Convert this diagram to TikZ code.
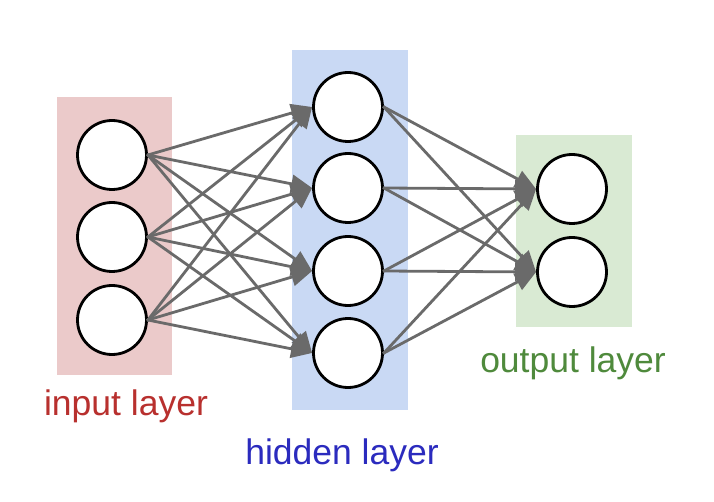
\documentclass[tikz,border=0pt]{standalone}
\usepackage{fontspec}
\setmainfont{Liberation Sans}
\usetikzlibrary{arrows.meta}
\definecolor{inbg}{HTML}{EBCACA}
\definecolor{hidbg}{HTML}{C9D9F4}
\definecolor{outbg}{HTML}{D9EAD3}
\definecolor{intxt}{HTML}{B8302E}
\definecolor{hidtxt}{HTML}{2B2BBE}
\definecolor{outtxt}{HTML}{4F8A3C}
\definecolor{edgecol}{HTML}{6A6A6A}
\tikzset{
  neuron/.style={circle, draw=black, line width=2.8pt, fill=white, minimum size=69pt, inner sep=0pt},
  conn/.style={draw=edgecol, line width=2.8pt, -{Triangle[length=21pt,width=18pt]}, shorten <=-1pt},
  lbl/.style={anchor=base, inner sep=0pt, font=\fontsize{35.5}{42}\selectfont}
}
\begin{document}
\begin{tikzpicture}[x=1pt,y=-1pt]
\useasboundingbox (0,0) rectangle (714,502);
\fill[white] (0,0) rectangle (714,502);
\fill[inbg] (57,97) rectangle (172,375);
\fill[hidbg] (292,50) rectangle (408,410);
\fill[outbg] (516,135) rectangle (632,327);
\node[neuron] (i1) at (112,155) {};
\node[neuron] (i2) at (112,237) {};
\node[neuron] (i3) at (112,320) {};
\node[neuron] (h1) at (348,107) {};
\node[neuron] (h2) at (348,188) {};
\node[neuron] (h3) at (348,271) {};
\node[neuron] (h4) at (348,353) {};
\node[neuron] (o1) at (572,189) {};
\node[neuron] (o2) at (572,272) {};
\foreach \a in {i1,i2,i3}{\foreach \b in {h1,h2,h3,h4}{\draw[conn] (\a.east) -- (\b.west);}}
\foreach \a in {h1,h2,h3,h4}{\foreach \b in {o1,o2}{\draw[conn] (\a.east) -- (\b.west);}}
\node[lbl, text=intxt] (tin) at (126,415) {input layer};
\node[lbl, text=hidtxt] (thid) at (342,464) {hidden layer};
\node[lbl, text=outtxt] (tout) at (573,372) {output layer};
\end{tikzpicture}
\end{document}
